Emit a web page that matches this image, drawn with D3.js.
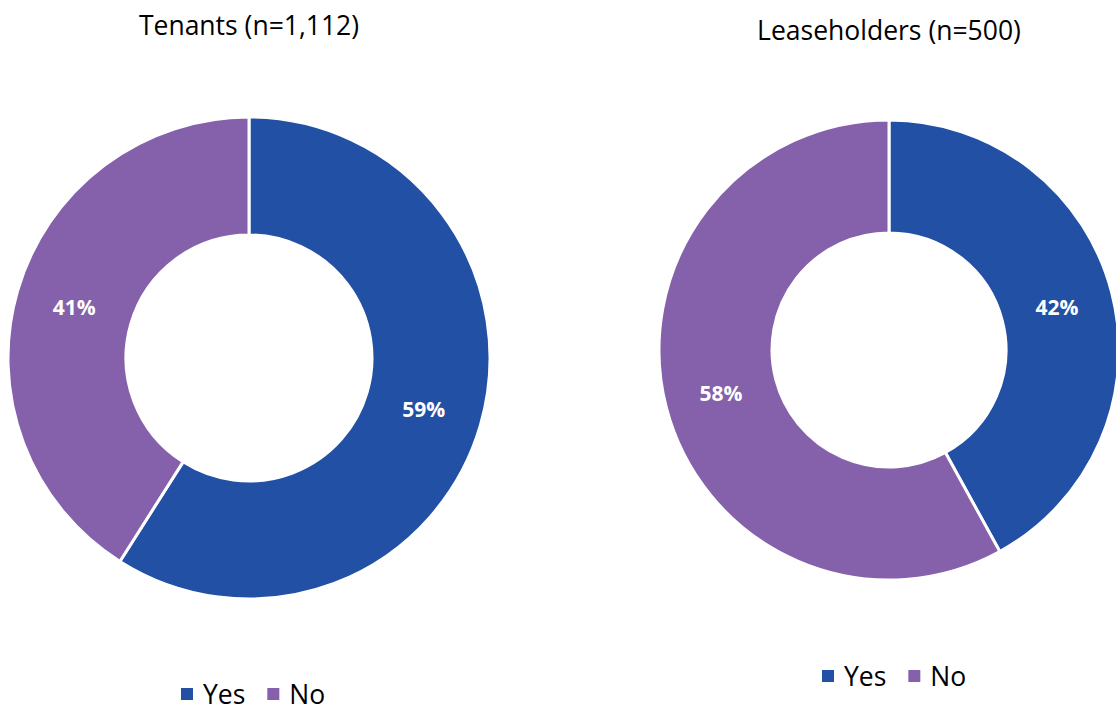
<!DOCTYPE html>
<html>
<head>
<meta charset="utf-8">
<script src="https://d3js.org/d3.v7.min.js"></script>
<style>
body {margin: 0; background: white;}
svg text {font-family: "Open Sans", "Noto Sans", sans-serif;}
.title {font-size: 26.5px; fill: #000; text-anchor: middle;}
.label {font-size: 21px; font-weight: bold; fill: white; text-anchor: middle; dominant-baseline: central;}
.legend text {font-size: 26.5px; fill: #000;}
</style>
</head>
<body>
<svg width="1116" height="711"></svg>
<script>
// data
var categories = ["Yes", "No"];
var colors = ["#2250A5", "#8561AB"];
var tenants = [59, 41];
var leaseholders = [42, 58];
var titles = ["Tenants (n=1,112)", "Leaseholders (n=500)"];

var svg = d3.select("svg");
var color = d3.scaleOrdinal().domain(categories).range(colors);

var charts = [
  {title: titles[0], values: tenants, cx: 249, cy: 358, r: 241, ir: 123, ty: 35, ly: 694, lx: 181},
  {title: titles[1], values: leaseholders, cx: 889, cy: 350, r: 230, ir: 117, ty: 40, ly: 676, lx: 822}
];

var pie = d3.pie().sort(null).value(function(d) { return d.v; });

charts.forEach(function(c) {
  var data = categories.map(function(k, i) { return {k: k, v: c.values[i]}; });
  var arc = d3.arc().innerRadius(c.ir).outerRadius(c.r);
  var labelArc = d3.arc().innerRadius((c.ir + c.r) / 2).outerRadius((c.ir + c.r) / 2);

  var g = svg.append("g").attr("transform", "translate(" + c.cx + "," + c.cy + ")");
  g.selectAll("path").data(pie(data)).enter().append("path")
    .attr("d", arc)
    .attr("fill", function(d) { return color(d.data.k); })
    .attr("stroke", "white")
    .attr("stroke-width", 3);

  g.selectAll(".label").data(pie(data)).enter().append("text")
    .attr("class", "label")
    .attr("transform", function(d) { return "translate(" + labelArc.centroid(d) + ")"; })
    .text(function(d) { return d.data.v + "%"; });

  svg.append("text").attr("class", "title")
    .attr("x", c.cx).attr("y", c.ty)
    .text(c.title);

  // legend
  var leg = svg.append("g").attr("class", "legend")
    .attr("transform", "translate(" + c.lx + "," + c.ly + ")");
  var x = 0;
  categories.forEach(function(k) {
    leg.append("rect").attr("x", x).attr("y", -6).attr("width", 12).attr("height", 12)
      .attr("fill", color(k));
    var t = leg.append("text").attr("x", x + 22).attr("y", 0)
      .attr("dominant-baseline", "central").text(k);
    x += 22 + t.node().getComputedTextLength() + 22;
  });
});
</script>
</body>
</html>
